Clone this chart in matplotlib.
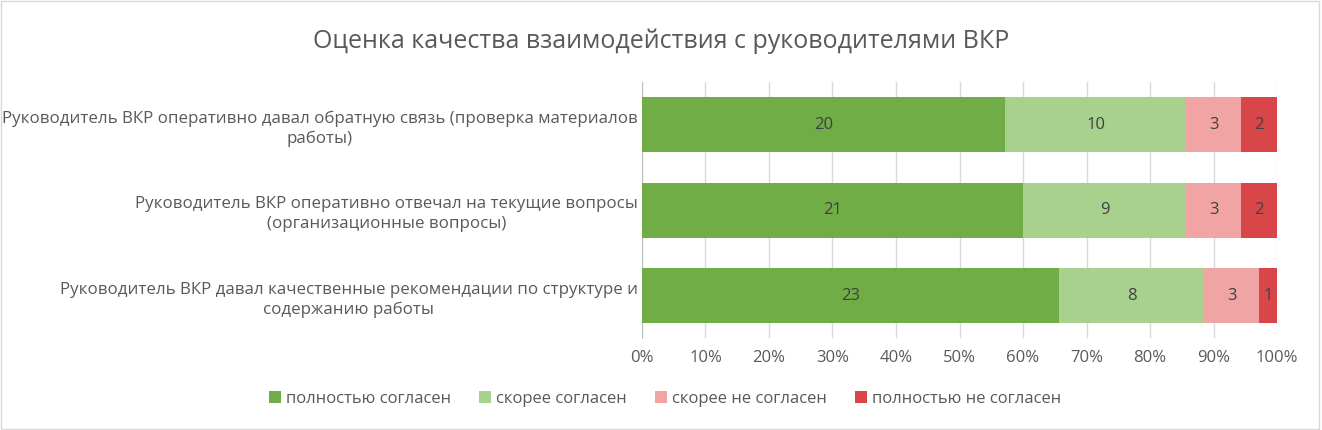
import numpy as np
import matplotlib.pyplot as plt
from matplotlib.patches import Rectangle

plt.rcParams['font.family'] = ['Open Sans', 'DejaVu Sans']

# Data
questions = [
    "Руководитель ВКР оперативно давал обратную связь (проверка материалов\nработы)",
    "Руководитель ВКР оперативно отвечал на текущие вопросы\n(организационные вопросы)",
    "Руководитель ВКР давал качественные рекомендации по структуре и\nсодержанию работы",
]
series_names = ["полностью согласен", "скорее согласен", "скорее не согласен", "полностью не согласен"]
full_agree = [20, 21, 23]
rather_agree = [10, 9, 8]
rather_disagree = [3, 3, 3]
full_disagree = [2, 2, 1]

colors = ["#70AD47", "#A9D18E", "#F0A4A4", "#D9464A"]
text_col = "#595959"

counts = np.array([full_agree, rather_agree, rather_disagree, full_disagree], dtype=float)
totals = counts.sum(axis=0)
shares = counts / totals

fig = plt.figure(figsize=(13.22, 4.30), dpi=100)
ax = fig.add_axes([0.4856, 0.2128, 0.4804, 0.5965])

y = np.arange(len(questions))
left = np.zeros(len(questions))
for i, name in enumerate(series_names):
    bars = ax.barh(y, shares[i], left=left, height=0.64, color=colors[i],
                   label=name, zorder=3)
    for j, b in enumerate(bars):
        ax.text(left[j] + shares[i][j] / 2, y[j], f"{int(counts[i][j])}",
                ha='center', va='center', fontsize=12, color="#404040", zorder=4)
    left += shares[i]

ax.set_xlim(0, 1)
ax.set_ylim(len(questions) - 0.5, -0.5)
ax.set_xticks(np.linspace(0, 1, 11))
ax.set_xticklabels([f"{int(round(t * 100))}%" for t in np.linspace(0, 1, 11)])
ax.set_yticks(y)
ax.set_yticklabels(questions, multialignment='center', linespacing=1.35)
ax.tick_params(axis='x', length=0, pad=8, labelsize=12, colors=text_col)
ax.tick_params(axis='y', length=0, pad=3, labelsize=12.2, colors=text_col)
ax.grid(axis='x', color="#D9D9D9", linewidth=1, zorder=0)
for s in ['top', 'right', 'bottom']:
    ax.spines[s].set_visible(False)
ax.spines['left'].set_color("#BFBFBF")

fig.text(0.5, 0.905, "Оценка качества взаимодействия с руководителями ВКР",
         ha='center', va='center', fontsize=18, color=text_col)

fig.legend(loc='center', bbox_to_anchor=(0.503, 0.072), ncol=4, frameon=False,
           fontsize=12, handlelength=0.7, handleheight=0.7, handletextpad=0.3,
           columnspacing=1.7, labelcolor=text_col)

fig.patches.append(Rectangle((0.001, 0.002), 0.997, 0.995, transform=fig.transFigure,
                             fill=False, edgecolor="#D9D9D9", linewidth=1))

fig.savefig("out.png", dpi=100)
